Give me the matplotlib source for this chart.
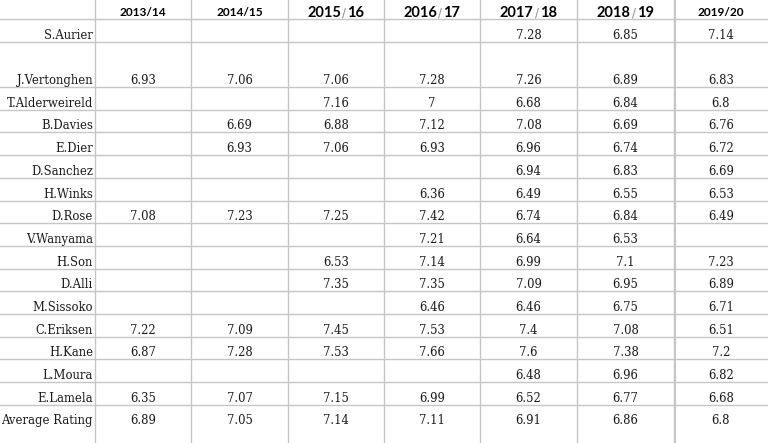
import numpy as np
import matplotlib
matplotlib.use("Agg")
import matplotlib.pyplot as plt

nan = np.nan

seasons = ["2013/14", "2014/15", "2015／16", "2016／17", "2017／18", "2018／19", "2019/20"]
players = ["S.Aurier", "J.Vertonghen", "T.Alderweireld", "B.Davies", "E.Dier",
           "D.Sanchez", "H.Winks", "D.Rose", "V.Wanyama", "H.Son", "D.Alli",
           "M.Sissoko", "C.Eriksen", "H.Kane", "L.Moura", "E.Lamela",
           "Average Rating"]

ratings = np.array([
    [nan,  nan,  nan,  nan,  7.28, 6.85, 7.14],   # Aurier
    [6.93, 7.06, 7.06, 7.28, 7.26, 6.89, 6.83],   # Vertonghen
    [nan,  nan,  7.16, 7.00, 6.68, 6.84, 6.80],   # Alderweireld
    [nan,  6.69, 6.88, 7.12, 7.08, 6.69, 6.76],   # Davies
    [nan,  6.93, 7.06, 6.93, 6.96, 6.74, 6.72],   # Dier
    [nan,  nan,  nan,  nan,  6.94, 6.83, 6.69],   # Sanchez
    [nan,  nan,  nan,  6.36, 6.49, 6.55, 6.53],   # Winks
    [7.08, 7.23, 7.25, 7.42, 6.74, 6.84, 6.49],   # Rose
    [nan,  nan,  nan,  7.21, 6.64, 6.53, nan],    # Wanyama
    [nan,  nan,  6.53, 7.14, 6.99, 7.10, 7.23],   # Son
    [nan,  nan,  7.35, 7.35, 7.09, 6.95, 6.89],   # Alli
    [nan,  nan,  nan,  6.46, 6.46, 6.75, 6.71],   # Sissoko
    [7.22, 7.09, 7.45, 7.53, 7.40, 7.08, 6.51],   # Eriksen
    [6.87, 7.28, 7.53, 7.66, 7.60, 7.38, 7.20],   # Kane
    [nan,  nan,  nan,  nan,  6.48, 6.96, 6.82],   # Moura
    [6.35, 7.07, 7.15, 6.99, 6.52, 6.77, 6.68],   # Lamela
    [6.89, 7.05, 7.14, 7.11, 6.91, 6.86, 6.80],   # average
])

# layout in pixels (figure is 768 x 443)
W, H = 768, 443
col_edges = [0, 95, 191, 288, 384, 480, 577, 674, 768]
header_h = 19
row_h = [23, 45] + [22.7] * 15
row_edges = np.concatenate([[header_h], header_h + np.cumsum(row_h)])

BODY_FONT = ["DejaVu Serif"]
HEAD_FONT = ["Lato", "DejaVu Sans"]
GRID = "#c6c6c6"
INK = "#1a1a1a"

fig = plt.figure(figsize=(W / 100, H / 100), dpi=100)
ax = fig.add_axes([0, 0, 1, 1])
ax.set_xlim(0, W)
ax.set_ylim(H, 0)
ax.axis("off")

# grid
for x in col_edges[1:-1]:
    ax.axvline(x, color=GRID, lw=1.0)
ax.axvline(674.8, color=GRID, lw=0.8)
for y in row_edges[:-1]:
    ax.axhline(y, color=GRID, lw=1.0)

# header (wide-slash headers drawn with a thin grey slash like the source)
for j, s in enumerate(seasons):
    cx = (col_edges[j + 1] + col_edges[j + 2]) / 2
    if "／" in s:
        left, right = s.split("／")
        ax.text(cx + 5, 17, left, ha="right", va="baseline", fontsize=10.5,
                fontweight="bold", family=HEAD_FONT, color="black")
        ax.text(cx + 8.2, 16.5, "/", ha="center", va="baseline", fontsize=8.5,
                family=["DejaVu Sans"], color="#8a8a8a")
        ax.text(cx + 11.5, 17, right, ha="left", va="baseline", fontsize=10.5,
                fontweight="bold", family=HEAD_FONT, color="black")
    else:
        ax.text(cx, 16, s, ha="center", va="baseline", fontsize=8.6,
                fontweight="bold", family=HEAD_FONT, color="black")

# body
for i, name in enumerate(players):
    base = row_edges[i + 1] - 3
    ax.text(93, base, name, ha="right", va="baseline", fontsize=8.4,
            family=BODY_FONT, color=INK)
    for j in range(len(seasons)):
        v = ratings[i, j]
        if np.isnan(v):
            continue
        cx = (col_edges[j + 1] + col_edges[j + 2]) / 2
        ax.text(cx, base, f"{v:g}", ha="center", va="baseline", fontsize=8.4,
                family=BODY_FONT, color=INK)

fig.savefig("out.png", dpi=100)
